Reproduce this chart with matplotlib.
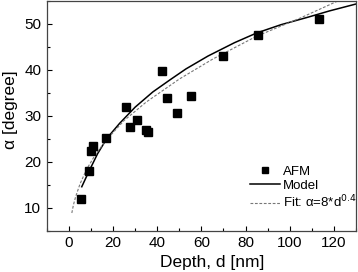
import numpy as np
import matplotlib
matplotlib.use("Agg")
import matplotlib.pyplot as plt
from matplotlib.ticker import MultipleLocator

plt.rcParams['font.family'] = ['Liberation Sans', 'DejaVu Sans']

# AFM measurements
afm_d = [5.3, 8.9, 9.8, 11.1, 16.9, 25.8, 27.6, 30.7, 34.7, 35.6, 42.2, 44.4, 48.9, 55.1, 69.8, 85.8, 113.3]
afm_a = [12.0, 18.0, 22.4, 23.5, 25.2, 32.0, 27.6, 29.1, 27.0, 26.5, 39.8, 33.9, 30.7, 34.3, 43.0, 47.6, 51.1]

# model curve
model_d = [5.8, 8.9, 13, 17.3, 23, 30, 38, 46, 53, 63, 75, 85, 96, 108, 118, 130]
model_a = [14.6, 17.8, 21.8, 25.2, 28.4, 31.9, 35.2, 37.9, 40.2, 43.0, 45.9, 48.0, 49.8, 51.4, 52.8, 54.3]

# fit curve alpha = 8*d^0.4
fit_d = [1.3, 2, 3, 5, 8, 12, 17, 25, 35, 50, 65, 85, 105, 122]
fit_a = [8.9, 10.6, 12.4, 15.2, 18.4, 21.6, 24.8, 29.0, 33.0, 38.0, 42.3, 47.3, 51.3, 55.0]

fig = plt.figure(figsize=(3.58, 2.72), dpi=100)
ax = fig.add_axes([0.131, 0.151, 0.863, 0.846])

ax.plot(afm_d, afm_a, 's', color='black', markersize=5.5, label='AFM', zorder=3)
ax.plot(model_d, model_a, '-', color='black', linewidth=1.1, label='Model')
ax.plot(fit_d, fit_a, '--', color='#777777', linewidth=0.8, dashes=(2.5, 1.5),
        label='Fit: α=8*d$^{0.4}$')

ax.set_xlim(-10, 130)
ax.set_ylim(5, 55)
ax.xaxis.set_major_locator(MultipleLocator(20))
ax.xaxis.set_minor_locator(MultipleLocator(10))
ax.yaxis.set_major_locator(MultipleLocator(10))
ax.yaxis.set_minor_locator(MultipleLocator(5))
ax.tick_params(which='both', direction='in', top=False, right=False, labelsize=11, pad=4)
ax.tick_params(which='major', length=3.5, width=0.8)
ax.tick_params(which='minor', length=2, width=0.8)
for s in ax.spines.values():
    s.set_color('#444444')
    s.set_linewidth(0.9)

ax.set_xlabel('Depth, d [nm]', fontsize=12.5)
ax.xaxis.set_label_coords(0.534, -0.105)
fig.text(11 / 358, 1 - 110 / 272, 'α [degree]', rotation=90, fontsize=12.5,
         ha='center', va='center')

ax.legend(loc='upper left', bbox_to_anchor=(0.657, 0.285), frameon=False,
          fontsize=9.5, handlelength=2.3, handletextpad=0.2, labelspacing=0.15,
          borderaxespad=0, borderpad=0, markerscale=0.9)

fig.savefig('out.png', dpi=100)
